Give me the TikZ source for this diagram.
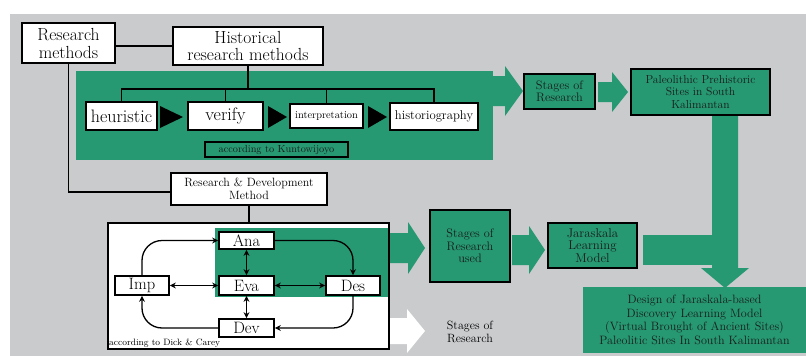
\documentclass[tikz,border=0pt]{standalone}
\usetikzlibrary{arrows.meta}
\definecolor{tealg}{RGB}{38,152,114}
\definecolor{bggray}{RGB}{201,203,204}
\definecolor{inkd}{RGB}{25,30,28}
\begin{document}
\begin{tikzpicture}[x=1pt,y=-1pt,
  box/.style={draw=black, line width=2pt, fill=white, inner sep=0pt, align=center},
  gbox/.style={draw=black, line width=2pt, fill=tealg, inner sep=0pt, align=center, text=inkd},
  link/.style={line width=1.8pt},
  cyc/.style={line width=1.3pt, rounded corners=20pt, -{Stealth[length=6pt,width=6pt]}},
  dcyc/.style={line width=1.3pt, {Stealth[length=6pt,width=6pt]}-{Stealth[length=6pt,width=6pt]}},
  fs/.style={font=\fontsize{#1}{#1}\selectfont}
]
\useasboundingbox (0,0) rectangle (806,356);
\fill[white] (0,0) rectangle (806,356);
\fill[bggray] (10,14) rectangle (806,356);

% ---------- top part ----------
\fill[tealg] (76,71) rectangle (493,160);
\fill[tealg] (493,76) -- (505,76) -- (505,66) -- (523,91) -- (505,116) -- (505,106) -- (493,106) -- cycle;

\node[box, minimum width=93, minimum height=40, font=\fontsize{17.5}{18}\selectfont] (rm) at (68.5,43) {Research\\methods};
\node[box, minimum width=150, minimum height=38, font=\fontsize{17.5}{17.5}\selectfont] (hrm) at (248,46) {Historical\\research methods};

\node[box, minimum width=71, minimum height=28, fs=18] (heur) at (121.5,116) {heuristic};
\node[box, minimum width=75, minimum height=28, fs=18] (ver) at (225.5,116) {verify};
\node[box, minimum width=73, minimum height=24, fs=10.4] (interp) at (326.5,116) {interpretation};
\node[box, minimum width=88, minimum height=27, fs=12.7] (hist) at (434,116.5) {historiography};

\fill[black] (160,106) -- (183,117) -- (160,128) -- cycle;
\fill[black] (268,106) -- (287,117) -- (268,128) -- cycle;
\fill[black] (368,106) -- (387,117) -- (368,128) -- cycle;

\node[gbox, line width=1.7pt, minimum width=143, minimum height=15, fs=10.3] (kunto) at (276.5,149.5) {according to Kuntowijoyo};

\coordinate (bus) at (248,89);
\draw[link] (rm.east |- hrm.west) -- (hrm.west);
\draw[link] (hrm.south) -- (bus);
\draw[link] (heur.north) |- (bus);
\draw[link] (hist.north) |- (bus);
\draw[link] (ver.north) -- (ver.north |- bus);
\draw[link] (interp.north) -- (interp.north |- bus);

\node[gbox, minimum width=71, minimum height=35, font=\fontsize{12.3}{12.5}\selectfont] (sor) at (559.5,91.5) {Stages of\\Research};
\fill[tealg] (598,82) -- (612,82) -- (612,72) -- (628,92) -- (612,112) -- (612,102) -- (598,102) -- cycle;
\node[gbox, minimum width=139, minimum height=46, font=\fontsize{11.6}{12.5}\selectfont] (paleo) at (700.5,92) {Paleolithic Prehistoric\\Sites in South\\Kalimantan};

\fill[tealg] (712,116) -- (738,116) -- (738,268) -- (749,268) -- (725,288) -- (701,268) -- (712,268) -- cycle;
\fill[tealg] (643,235) rectangle (712,265);

\node[fill=tealg, inner sep=0pt, minimum width=223, minimum height=66, align=center, text=inkd, font=\fontsize{12.1}{13.5}\selectfont] (design) at (694.5,320) {Design of Jaraskala-based\\Discovery Learning Model\\(Virtual Brought of Ancient Sites)\\Paleolitic Sites In South Kalimantan};

% ---------- lower part ----------
\node[box, minimum width=156, minimum height=32, font=\fontsize{12}{13}\selectfont] (rd) at (249,189) {Research \& Development\\Method};
\draw[link] (rm.south) |- ([yshift=-3pt]rd.west);

\node[fill=white, inner sep=0pt, minimum width=281, minimum height=126] (low) at (248.5,286) {};
\draw[link] (rd.south) -- (rd.south |- low.north);
\fill[tealg] (215,228) rectangle (388,297);
\fill[tealg] (389,233) -- (408,233) -- (408,222) -- (425,248) -- (408,274) -- (408,263) -- (389,263) -- cycle;
\fill[white] (389,318) -- (407,318) -- (407,309) -- (425,331) -- (407,353) -- (407,344) -- (389,344) -- cycle;
\draw[line width=2pt] (low.north west) rectangle (low.south east);

\node[box, line width=1.7pt, minimum width=55, minimum height=17, fs=16.5] (ana) at (246.5,240.5) {Ana};
\node[box, line width=1.7pt, minimum width=54, minimum height=19, fs=16.5] (imp) at (142,285.5) {Imp};
\node[box, line width=1.7pt, minimum width=55, minimum height=19, fs=16.5] (eva) at (246.5,285.5) {Eva};
\node[box, line width=1.7pt, minimum width=54, minimum height=19, fs=16.5] (des) at (353,285.5) {Des};
\node[box, line width=1.7pt, minimum width=55, minimum height=18, fs=16.5] (dev) at (246.5,328) {Dev};

\draw[cyc] (imp.north) |- (ana.west);
\draw[cyc] (ana.east) -| (des.north);
\draw[cyc] (des.south) |- (dev.east);
\draw[cyc] (dev.west) -| (imp.south);
\draw[dcyc] (ana.south) -- (eva.north);
\draw[dcyc] (eva.south) -- (dev.north);
\draw[dcyc] (imp.east) -- (eva.west);
\draw[dcyc] (eva.east) -- (des.west);

\node[anchor=west, inner sep=0pt, fs=9.2] (dick) at (109,343) {according to Dick \& Carey};

\node[gbox, minimum width=80, minimum height=72, font=\fontsize{12.3}{12.5}\selectfont] (sru) at (470,246) {Stages of\\Research\\used};
\fill[tealg] (512,235) -- (529,235) -- (529,226) -- (545,250) -- (529,274) -- (529,265) -- (512,265) -- cycle;
\node[gbox, minimum width=89, minimum height=45, font=\fontsize{12.8}{12.5}\selectfont] (jar) at (592.5,245.5) {Jaraskala\\Learning\\Model};

\node[inner sep=0pt, align=center, font=\fontsize{12}{12.5}\selectfont] (legend) at (470,332) {Stages of\\Research};
\end{tikzpicture}
\end{document}
